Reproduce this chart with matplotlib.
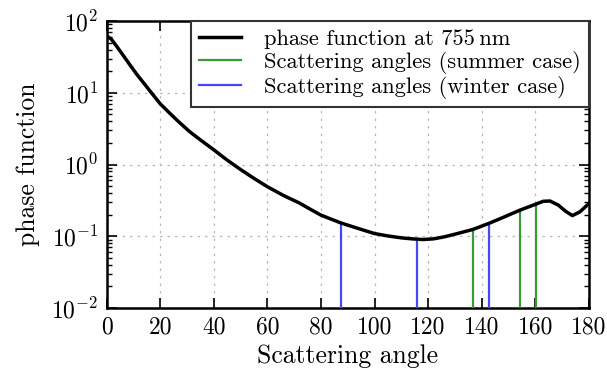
import numpy as np
import matplotlib
matplotlib.use("Agg")
import matplotlib.pyplot as plt
from matplotlib.ticker import LogLocator, NullFormatter

plt.rcParams['font.family'] = ['cmr10', 'DejaVu Serif']
plt.rcParams['mathtext.fontset'] = 'cm'
plt.rcParams['axes.formatter.use_mathtext'] = True

# Phase function at 755 nm
angles = [0, 1.7, 4, 6.5, 9, 11.4, 14, 16.4, 20, 23.5, 27, 31, 35, 40, 45, 50,
          55, 60, 66, 72, 76, 80, 84, 87.5, 94, 100, 105, 110, 114, 118, 122,
          126, 130.5, 136.6, 142.7, 148, 154.3, 160.2, 163, 165.5, 168.6,
          171.4, 173.9, 176.7, 180]
phase = [62, 56, 43, 31.8, 23.5, 17.7, 13.4, 10.3, 7.0, 5.2, 3.9, 2.86, 2.2,
         1.6, 1.15, 0.85, 0.64, 0.49, 0.37, 0.29, 0.238, 0.197, 0.172, 0.153,
         0.128, 0.109, 0.101, 0.095, 0.092, 0.090, 0.092, 0.098, 0.108, 0.124,
         0.151, 0.183, 0.231, 0.28, 0.307, 0.31, 0.272, 0.222, 0.194, 0.219,
         0.285]

summer_angles = [136.6, 154.3, 160.2]
winter_angles = [87.4, 115.8, 142.8]

xticks = [0, 20, 40, 60, 80, 100, 120, 140, 160, 180]

fig = plt.figure(figsize=(6.07, 3.71), dpi=100)
ax = fig.add_axes([0.1758, 0.1698, 0.7942, 0.7736])

green = '#3a9a3a'
blue = '#4646ff'

logp = np.log10(phase)


def val_at(a):
    return 10 ** np.interp(a, angles, logp)


ax.plot(angles, phase, color='black', lw=2.5, label='phase function at 755\u2009nm',
        zorder=4, solid_joinstyle='round')
for i, a in enumerate(summer_angles):
    ax.plot([a, a], [1e-2, val_at(a)], color=green, lw=1.6,
            label='Scattering angles (summer case)' if i == 0 else None, zorder=3)
for i, a in enumerate(winter_angles):
    ax.plot([a, a], [1e-2, val_at(a)], color=blue, lw=1.6,
            label='Scattering angles (winter case)' if i == 0 else None, zorder=3)

ax.set_yscale('log')
ax.set_xlim(0, 180)
ax.set_ylim(1e-2, 1e2)
ax.set_xticks(xticks)
ax.set_xticklabels([str(t) for t in xticks])
ax.yaxis.set_major_locator(LogLocator(base=10, numticks=10))
ax.yaxis.set_minor_locator(LogLocator(base=10, subs=np.arange(2, 10), numticks=20))
ax.yaxis.set_minor_formatter(NullFormatter())

ax.grid(True, which='major', color='#b8b8b8', linestyle=(0, (2, 4)), linewidth=0.9)
ax.tick_params(axis='both', which='major', direction='in', length=7, width=1.2,
               top=True, right=True, labelsize=17, pad=6)
ax.tick_params(axis='both', which='minor', direction='in', length=3.5, width=1.0,
               top=True, right=True)
for s in ax.spines.values():
    s.set_linewidth(1.8)

ax.set_xlabel('Scattering angle', fontsize=18.5, labelpad=4)
ax.set_ylabel('phase function', fontsize=18.5, labelpad=8)

leg = ax.legend(loc='upper right', fontsize=16.2, frameon=True, fancybox=False,
                framealpha=1, edgecolor='#333333', handlelength=1.85,
                borderaxespad=0.0, labelspacing=0.1, borderpad=0.35,
                handletextpad=1.05)
leg.get_frame().set_linewidth(1.5)

fig.savefig('out.png', dpi=100)
